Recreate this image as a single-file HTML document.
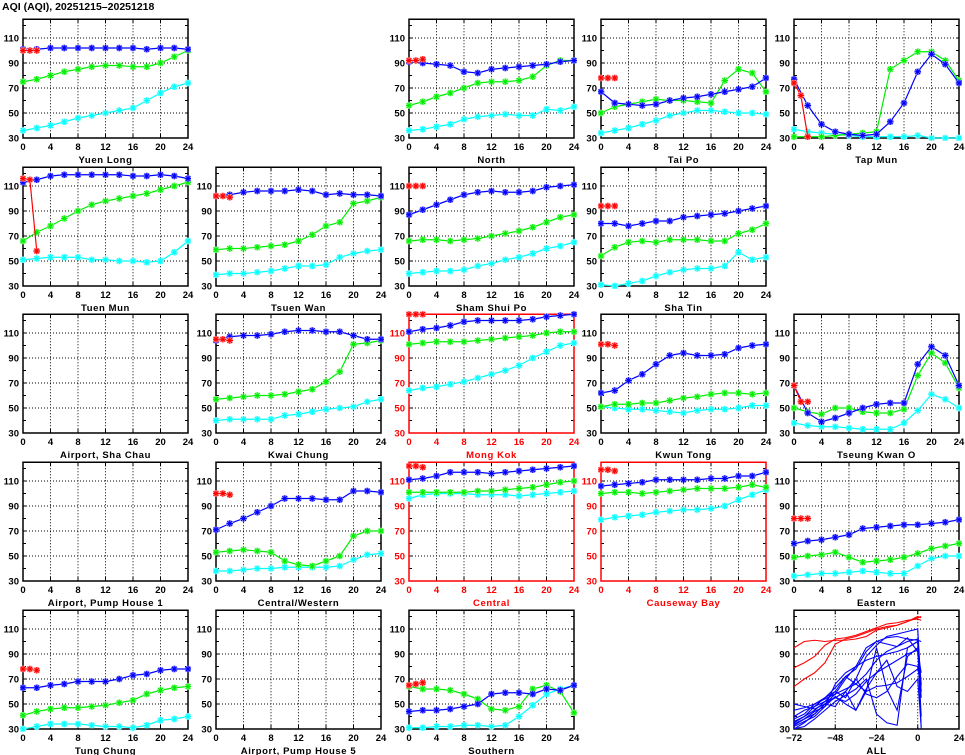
<!DOCTYPE html>
<html><head><meta charset="utf-8"><style>
html,body{margin:0;padding:0;background:#fff;}
svg{display:block;font-family:"Liberation Sans",sans-serif;}
text{font-weight:bold;}
</style></head><body>
<svg id="chart" width="965" height="755" viewBox="0 0 965 755">
<text x="2" y="10" font-size="10.5" fill="#000">AQI (AQI), 20251215–20251218</text>
</svg>
<script>
// ---- data (values at hours 0,2,4,...,24; red = hours 0,1,2) ----
const hours = [0,2,4,6,8,10,12,14,16,18,20,22,24];
const redHours = [0,1,2];
const yTicks = [30,50,70,90,110];
const xTicks = [0,4,8,12,16,20,24];
const allXTicks = [-72,-48,-24,0,24];

const yuenLongBlue=[101,101,102,102,102,102,102,102,102,101,102,102,101];
const yuenLongGreen=[75,77,80,83,85,87,88,88,87,87,90,95,100];
const yuenLongCyan=[36,38,40,43,46,48,50,52,54,60,66,71,74];
const yuenLongRed=[100,100,100];
const northBlue=[91,90,89,88,83,82,85,86,87,88,89,91,92];
const northGreen=[56,59,63,66,70,74,75,75,76,79,88,92,92];
const northCyan=[36,37,39,41,45,47,48,49,48,48,53,52,55];
const northRed=[92,92,93];
const taiPoBlue=[67,58,57,56,57,60,62,63,65,67,69,71,78];
const taiPoGreen=[50,55,57,59,61,60,60,59,58,76,85,82,67];
const taiPoCyan=[34,36,38,41,44,48,50,52,52,51,50,50,49];
const taiPoRed=[78,78,78];
const tapMunBlue=[77,56,41,35,33,32,33,43,58,83,97,89,74];
const tapMunGreen=[31,31,31,32,33,34,35,85,92,99,99,92,76];
const tapMunCyan=[37,35,34,33,32,31,31,31,31,32,30,30,30];
const tapMunRed=[74,64,31];
const tuenMunBlue=[113,115,118,119,119,119,119,119,118,118,119,118,116];
const tuenMunGreen=[66,73,78,84,90,95,98,100,102,104,107,110,113];
const tuenMunCyan=[51,52,53,53,53,51,51,50,50,49,50,57,66];
const tuenMunRed=[116,115,58];
const tsuenWanBlue=[102,103,105,106,106,106,107,106,103,104,103,103,102];
const tsuenWanGreen=[59,60,60,61,62,63,66,71,78,81,96,98,101];
const tsuenWanCyan=[39,40,40,41,42,44,46,46,47,53,56,58,59];
const tsuenWanRed=[102,102,101];
const shamShuiPoBlue=[87,91,95,99,103,105,106,105,105,106,109,110,111];
const shamShuiPoGreen=[66,67,67,66,67,68,70,72,74,77,81,85,87];
const shamShuiPoCyan=[40,41,42,42,43,46,48,51,53,56,60,62,65];
const shamShuiPoRed=[110,110,110];
const shaTinBlue=[80,80,78,80,82,82,85,86,87,88,90,92,94];
const shaTinGreen=[54,61,65,66,65,67,67,67,66,66,72,75,80];
const shaTinCyan=[31,30,32,34,38,41,43,44,44,46,57,51,53];
const shaTinRed=[94,94,94];
const kwaiChungBlue=[104,107,108,108,109,111,112,112,111,111,108,105,105];
const kwaiChungGreen=[57,58,59,60,60,61,63,65,71,79,101,102,104];
const kwaiChungCyan=[40,41,41,41,41,44,45,47,49,50,51,55,57];
const kwaiChungRed=[105,105,104];
const mongKokBlue=[111,113,114,116,119,120,120,120,120,121,123,124,125];
const mongKokGreen=[101,102,103,103,103,104,105,106,107,108,110,111,111];
const mongKokCyan=[64,66,67,69,71,74,77,80,84,90,95,100,102];
const mongKokRed=[125,125,125];
const kwunTongBlue=[62,64,72,77,85,92,94,92,92,93,98,100,101];
const kwunTongGreen=[51,53,53,54,54,56,58,59,61,62,62,61,62];
const kwunTongCyan=[51,50,49,49,48,47,46,48,49,49,50,52,52];
const kwunTongRed=[101,101,100];
const tseungKwanOBlue=[68,46,39,42,46,50,53,54,54,85,99,92,68];
const tseungKwanOGreen=[50,47,45,50,50,47,46,46,49,76,94,86,66];
const tseungKwanOCyan=[38,36,35,35,34,33,33,33,38,48,61,57,50];
const tseungKwanORed=[68,55,55];
const centralWesternBlue=[71,76,80,85,90,96,96,96,95,95,102,102,101];
const centralWesternGreen=[53,54,55,54,53,46,43,42,46,50,66,70,70];
const centralWesternCyan=[38,38,39,40,40,41,41,41,41,42,47,51,52];
const centralWesternRed=[100,100,99];
const centralBlue=[111,112,114,117,117,117,116,117,118,119,120,121,122];
const centralGreen=[101,101,101,101,101,102,102,103,104,105,107,109,110];
const centralCyan=[96,99,100,100,100,99,99,99,98,99,100,101,102];
const centralRed=[122,122,121];
const causewayBayBlue=[106,107,108,109,111,111,111,111,112,112,114,114,117];
const causewayBayGreen=[100,101,101,100,101,102,103,104,104,104,105,107,105];
const causewayBayCyan=[79,81,82,83,85,86,87,87,88,90,95,99,103];
const causewayBayRed=[119,119,118];
const easternBlue=[60,62,63,65,67,72,73,74,75,75,76,77,79];
const easternGreen=[49,50,51,53,49,45,46,47,49,52,56,58,60];
const easternCyan=[34,35,36,36,37,38,37,36,36,42,48,50,50];
const easternRed=[80,80,80];
const tungChungBlue=[63,63,65,66,68,68,68,70,73,74,77,78,78];
const tungChungGreen=[41,44,46,47,47,48,49,51,53,58,61,63,64];
const tungChungCyan=[30,32,34,34,34,33,32,32,31,33,37,38,40];
const tungChungRed=[78,78,77];
const southernBlue=[44,45,45,46,48,50,58,59,59,58,62,61,65];
const southernGreen=[64,62,62,61,58,54,46,45,48,62,65,60,43];
const southernCyan=[31,31,32,32,33,33,32,33,40,49,58,62,65];
const southernRed=[65,66,67];

// ALL panel: hours -72..0 step 6, then +2
const allHours=[-72,-66,-60,-54,-48,-42,-36,-30,-24,-18,-12,-6,0,2];
const allRed1=[79,83,88,97,102,103,105,108,111,114,115,117,118,117];
const allRed2=[95,100,101,100,101,101,102,104,109,111,113,116,119,120];
const allRed3=[64,70,75,83,98,102,104,107,110,112,113,116,120,119];
const allBlue1=[30,35,42,50,58,70,80,95,100,103,104,102,101,100];
const allBlue2=[36,40,45,52,60,55,70,88,97,104,106,108,110,60];
const allBlue3=[40,45,48,52,55,60,45,60,95,62,45,88,95,40];
const allBlue4=[33,38,44,48,66,75,80,85,88,90,92,95,100,30];
const allBlue5=[50,48,46,50,55,52,58,68,75,80,85,90,93,65];
const allBlue6=[30,32,38,45,52,57,62,70,42,35,33,95,100,55];
const allBlue7=[35,40,48,55,60,72,66,60,64,65,67,72,78,70];
const allBlue8=[38,42,50,54,58,62,66,74,85,92,96,100,102,66];
const allBlue9=[32,36,40,48,56,50,45,62,75,85,64,60,70,32];
const allBlue10=[45,47,50,55,63,72,78,92,100,98,96,103,92,75];
const allBlue11=[34,38,42,50,48,60,70,58,55,60,72,82,80,60];

// layout (not data)
const panels=[
 {name:"Yuen Long",c:0,r:0,s:[yuenLongCyan,yuenLongGreen,yuenLongBlue],red:yuenLongRed},
 {name:"North",c:2,r:0,s:[northCyan,northGreen,northBlue],red:northRed},
 {name:"Tai Po",c:3,r:0,s:[taiPoCyan,taiPoGreen,taiPoBlue],red:taiPoRed},
 {name:"Tap Mun",c:4,r:0,s:[tapMunCyan,tapMunGreen,tapMunBlue],red:tapMunRed},
 {name:"Tuen Mun",c:0,r:1,s:[tuenMunCyan,tuenMunGreen,tuenMunBlue],red:tuenMunRed},
 {name:"Tsuen Wan",c:1,r:1,s:[tsuenWanCyan,tsuenWanGreen,tsuenWanBlue],red:tsuenWanRed},
 {name:"Sham Shui Po",c:2,r:1,s:[shamShuiPoCyan,shamShuiPoGreen,shamShuiPoBlue],red:shamShuiPoRed},
 {name:"Sha Tin",c:3,r:1,s:[shaTinCyan,shaTinGreen,shaTinBlue],red:shaTinRed},
 {name:"Airport, Sha Chau",c:0,r:2,s:[],red:null},
 {name:"Kwai Chung",c:1,r:2,s:[kwaiChungCyan,kwaiChungGreen,kwaiChungBlue],red:kwaiChungRed},
 {name:"Mong Kok",c:2,r:2,s:[mongKokCyan,mongKokGreen,mongKokBlue],red:mongKokRed,hi:true},
 {name:"Kwun Tong",c:3,r:2,s:[kwunTongCyan,kwunTongGreen,kwunTongBlue],red:kwunTongRed},
 {name:"Tseung Kwan O",c:4,r:2,s:[tseungKwanOCyan,tseungKwanOGreen,tseungKwanOBlue],red:tseungKwanORed},
 {name:"Airport, Pump House 1",c:0,r:3,s:[],red:null},
 {name:"Central/Western",c:1,r:3,s:[centralWesternCyan,centralWesternGreen,centralWesternBlue],red:centralWesternRed},
 {name:"Central",c:2,r:3,s:[centralCyan,centralGreen,centralBlue],red:centralRed,hi:true},
 {name:"Causeway Bay",c:3,r:3,s:[causewayBayCyan,causewayBayGreen,causewayBayBlue],red:causewayBayRed,hi:true},
 {name:"Eastern",c:4,r:3,s:[easternCyan,easternGreen,easternBlue],red:easternRed},
 {name:"Tung Chung",c:0,r:4,s:[tungChungCyan,tungChungGreen,tungChungBlue],red:tungChungRed},
 {name:"Airport, Pump House 5",c:1,r:4,s:[],red:null},
 {name:"Southern",c:2,r:4,s:[southernCyan,southernGreen,southernBlue],red:southernRed},
];
const colors=["#00ffff","#00ee00","#0000ff"];
const halo=["#aaffff","#aaffaa","#9999ff"];
const colLeft=[23,216,409,601,794], W=165;
const rowBottom=[138,286,433,581,729], H=118.75;
const NS="http://www.w3.org/2000/svg";
const svg=document.getElementById('chart');
function mk(tag,attrs,parent){const e=document.createElementNS(NS,tag);for(const k in attrs)e.setAttribute(k,attrs[k]);(parent||svg).appendChild(e);return e;}
function slug(s){return s.toLowerCase().replace(/[^a-z0-9]+/g,'-').replace(/-$/,'');}

function drawAxes(g,L,B,xmin,xmax,xt,hi,name){
  const xs=h=>L+(h-xmin)/(xmax-xmin)*W;
  const ys=v=>B-(v-30)*1.25;
  const col=hi?"#ff0000":"#000";
  xt.forEach(t=>{if(t>xmin&&t<xmax){const l=mk('line',{x1:xs(t),x2:xs(t),y1:B-H,y2:B,stroke:'#000','stroke-width':1,'stroke-dasharray':'1,2'},g);
    
    }});
  yTicks.forEach(t=>{if(t>30){const l=mk('line',{x1:L,x2:L+W,y1:ys(t),y2:ys(t),stroke:'#000','stroke-width':1,'stroke-dasharray':'1,2'},g);
    
    }});
  for(let v=40;v<=120;v+=10){mk('line',{x1:L,x2:L+3,y1:ys(v),y2:ys(v),stroke:'#000'},g);mk('line',{x1:L+W-3,x2:L+W,y1:ys(v),y2:ys(v),stroke:'#000'},g);}
  xt.forEach(t=>{mk('line',{x1:xs(t),x2:xs(t),y1:B,y2:B-4,stroke:'#000'},g);mk('line',{x1:xs(t),x2:xs(t),y1:B-H,y2:B-H+4,stroke:'#000'},g);});
  const f=mk('rect',{x:L,y:B-H,width:W,height:H,fill:'none',stroke:col,'stroke-width':1.5},g);
  
  
  yTicks.forEach(t=>{const tx=mk('text',{x:L-4,y:ys(t)+3.5,'font-size':9.5,'text-anchor':'end',fill:col},g);tx.textContent=t;
    
    });
  xt.forEach(t=>{const tx=mk('text',{x:xs(t),y:B+12,'font-size':9.5,'text-anchor':'middle',fill:col},g);tx.textContent=(t<0?'\u2212'+(-t):t);
    
    });
  const tt=mk('text',{x:L+W/2,y:B+25,'font-size':9.5,'text-anchor':'middle',fill:col,'letter-spacing':'0.6'},g);tt.textContent=name;
  
  
  return [xs,ys];
}
function star(g,x,y,c,h){const r=3.3,d=2.4;
  const dd=`M${x-r},${y}H${x+r}M${x},${y-r}V${y+r}M${x-d},${y-d}L${x+d},${y+d}M${x-d},${y+d}L${x+d},${y-d}`;
  mk('path',{d:dd,stroke:h,'stroke-width':2.4,fill:'none'},g);
  mk('path',{d:dd,stroke:c,'stroke-width':1.1,fill:'none'},g);}

panels.forEach((p,i)=>{
  const L=colLeft[p.c],B=rowBottom[p.r];
  const g=mk('g',{});
  
  
  const [xs,ys]=drawAxes(g,L,B,0,24,xTicks,p.hi,p.name);
  const cp=mk('clipPath',{id:'cp'+i},g);
  mk('rect',{x:L-3,y:B-H-3,width:W+6,height:H+6},cp);
  const dg=mk('g',{'clip-path':`url(#cp${i})`},g);
  p.s.forEach((vals,k)=>{
    const pl=mk('polyline',{points:vals.map((v,j)=>xs(hours[j])+','+ys(v)).join(' '),fill:'none',stroke:colors[k],'stroke-width':1.2},dg);
    
    
    vals.forEach((v,j)=>star(dg,xs(hours[j]),ys(v),colors[k],halo[k]));
  });
  if(p.red){
    const pl=mk('polyline',{points:p.red.map((v,j)=>xs(redHours[j])+','+ys(v)).join(' '),fill:'none',stroke:'#ff0000','stroke-width':1.2},dg);
    
    
    p.red.forEach((v,j)=>star(dg,xs(redHours[j]),ys(v),'#ff0000','#ffaaaa'));
  }
});

// ALL panel
(function(){
  const L=colLeft[4],B=rowBottom[4];
  const g=mk('g',{});
  
  
  const [xs,ys]=drawAxes(g,L,B,-72,24,allXTicks,false,'ALL');
  const cp=mk('clipPath',{id:'cpall'},g);mk('rect',{x:L,y:B-H,width:W,height:H},cp);
  const dg=mk('g',{'clip-path':'url(#cpall)'},g);
  [allBlue1,allBlue2,allBlue3,allBlue4,allBlue5,allBlue6,allBlue7,allBlue8,allBlue9,allBlue10,allBlue11].forEach(vals=>{
    const pl=mk('polyline',{points:vals.map((v,j)=>xs(allHours[j])+','+ys(v)).join(' '),fill:'none',stroke:'#0000ff','stroke-width':1.1},dg);
    
    
  });
  [allRed1,allRed2,allRed3].forEach(vals=>{
    const pl=mk('polyline',{points:vals.map((v,j)=>xs(allHours[j])+','+ys(v)).join(' '),fill:'none',stroke:'#ff0000','stroke-width':1.1},dg);
    
    
  });
})();
</script>
</body></html>
